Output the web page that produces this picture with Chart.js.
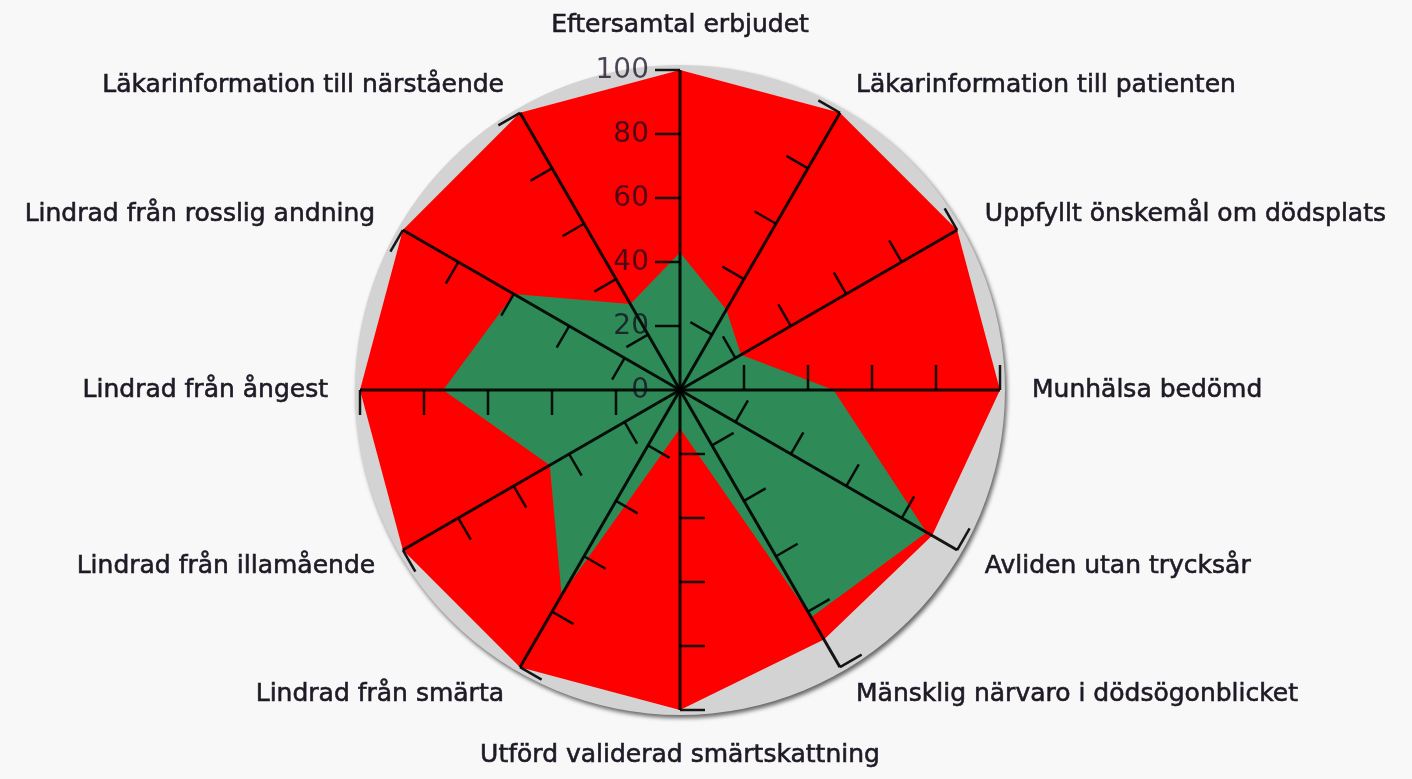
<!DOCTYPE html>
<html>
<head>
<meta charset="utf-8">
<script src="https://cdn.jsdelivr.net/npm/chart.js@4"></script>
<style>
  html, body { margin: 0; padding: 0; background: #f8f8f8; }
  #wrap { width: 1412px; height: 779px; }
</style>
</head>
<body>
<div id="wrap"><canvas id="c" width="1412" height="779"></canvas></div>
<script>
const categories = [
  "Eftersamtal erbjudet",
  "Läkarinformation till patienten",
  "Uppfyllt önskemål om dödsplats",
  "Munhälsa bedömd",
  "Avliden utan trycksår",
  "Mänsklig närvaro i dödsögonblicket",
  "Utförd validerad smärtskattning",
  "Lindrad från smärta",
  "Lindrad från illamående",
  "Lindrad från ångest",
  "Lindrad från rosslig andning",
  "Läkarinformation till närstående"
];
const redValues   = [100, 100, 100, 100, 91, 90, 100, 100, 100, 100, 100, 100];
const greenValues = [43, 29, 22, 48, 89, 82, 12, 74, 47, 74, 60, 31];
const tickValues  = [0, 20, 40, 60, 80, 100];

const decor = {
  id: 'decor',
  beforeDatasetsDraw(chart) {
    const s = chart.scales.r;
    const ctx = chart.ctx;
    ctx.save();
    ctx.shadowColor = 'rgba(0,0,0,0.6)';
    ctx.shadowBlur = 4;
    ctx.shadowOffsetX = 2;
    ctx.shadowOffsetY = 3;
    ctx.beginPath();
    ctx.arc(s.xCenter, s.yCenter, s.drawingArea + 5, 0, Math.PI * 2);
    ctx.fillStyle = '#d3d3d3';
    ctx.fill();
    ctx.restore();
  },
  afterDatasetsDraw(chart) {
    const s = chart.scales.r;
    const ctx = chart.ctx;
    const n = categories.length;
    const cx = s.xCenter, cy = s.yCenter;
    ctx.save();
    ctx.strokeStyle = 'rgba(0,0,0,0.9)';
    ctx.lineCap = 'butt';
    // spokes
    ctx.lineWidth = 3;
    for (let i = 0; i < n; i++) {
      const p = s.getPointPositionForValue(i, tickValues[tickValues.length - 1]);
      ctx.beginPath();
      ctx.moveTo(cx, cy);
      ctx.lineTo(p.x, p.y);
      ctx.stroke();
    }
    // ticks on spokes
    ctx.lineWidth = 2.5;
    const tl = 25;
    for (let i = 0; i < n; i++) {
      const a = (i / n) * Math.PI * 2;
      const px = -Math.cos(a), py = -Math.sin(a);
      for (const v of tickValues) {
        if (v === 0) continue;
        const p = s.getPointPositionForValue(i, v);
        ctx.beginPath();
        ctx.moveTo(p.x, p.y);
        ctx.lineTo(p.x + px * tl, p.y + py * tl);
        ctx.stroke();
      }
    }
    // tick labels on the top axis
    ctx.fillStyle = 'rgba(20,10,30,0.75)';
    ctx.font = '28px "DejaVu Sans"';
    ctx.textAlign = 'right';
    ctx.textBaseline = 'middle';
    for (const v of tickValues) {
      const p = s.getPointPositionForValue(0, v);
      ctx.fillText(String(v), p.x - tl - 6, p.y + 1);
    }
    // category labels
    ctx.fillStyle = '#1f1a26';
    ctx.strokeStyle = '#1f1a26';
    ctx.lineWidth = 0.6;
    ctx.font = '25px "DejaVu Sans"';
    ctx.textBaseline = 'middle';
    for (let i = 0; i < n; i++) {
      const a = (i / n) * Math.PI * 2;
      const sin = Math.sin(a), cos = Math.cos(a);
      const vertical = Math.abs(sin) < 0.01;
      const pad = vertical ? 45 : 32;
      const d = s.drawingArea + pad;
      const x = cx + sin * d;
      const y = cy - cos * d;
      ctx.textAlign = vertical ? 'center' : (sin > 0 ? 'left' : 'right');
      ctx.fillText(categories[i], x, y);
      ctx.strokeText(categories[i], x, y);
    }
    ctx.restore();
  }
};

new Chart(document.getElementById('c'), {
  type: 'radar',
  data: {
    labels: categories,
    datasets: [
      {
        label: 'Andel',
        data: greenValues,
        backgroundColor: 'rgb(46,139,87)',
        borderWidth: 0,
        pointRadius: 0,
        fill: true
      },
      {
        label: 'Målnivå',
        data: redValues,
        backgroundColor: 'rgb(255,0,0)',
        borderWidth: 0,
        pointRadius: 0,
        fill: true
      }
    ]
  },
  options: {
    responsive: false,
    devicePixelRatio: 1,
    animation: false,
    layout: { padding: { left: 360, right: 412, top: 70, bottom: 69 } },
    plugins: { legend: { display: false }, tooltip: { enabled: false } },
    scales: {
      r: {
        min: 0,
        max: 100,
        beginAtZero: true,
        grid: { display: false },
        angleLines: { display: false },
        pointLabels: { display: false },
        ticks: { display: false, stepSize: 20 }
      }
    }
  },
  plugins: [decor]
});
</script>
</body>
</html>
